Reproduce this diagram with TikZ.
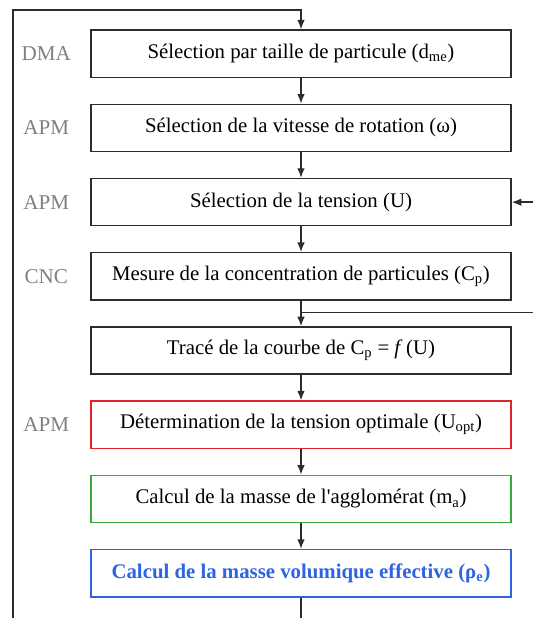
\documentclass[tikz,border=0pt]{standalone}
\usepackage{fontspec}
\setmainfont{Liberation Serif}
\usepackage{tikz}
\usetikzlibrary{positioning,arrows.meta,calc}
\usepackage{xcolor}
\definecolor{tagGray}{RGB}{128,128,128}
\definecolor{lineGray}{RGB}{45,45,45}
\definecolor{optRed}{RGB}{225,35,45}
\definecolor{massGreen}{RGB}{55,170,60}
\definecolor{rhoBlue}{RGB}{45,100,225}

\begin{document}
\begin{tikzpicture}[
  node distance=0.64cm,
  stepbox/.style={draw=lineGray, line width=1pt, minimum width=10.5cm, minimum height=1.18cm, inner sep=0pt, font=\fontsize{14.8}{17}\selectfont},
  tag/.style={text=tagGray, font=\fontsize{15}{17}\selectfont},
  wire/.style={draw=lineGray, line width=1pt},
  flow/.style={wire, -{Latex[length=2.4mm,width=1.9mm]}}
]
  \useasboundingbox (0,0) rectangle (13.325,-15.45);
  % the steps
  \node[stepbox] (b1) at (7.525,-1.344) {Sélection par taille de particule (d\textsubscript{me})};
  \node[stepbox, below=of b1] (b2) {Sélection de la vitesse de rotation (ω)};
  \node[stepbox, below=of b2] (b3) {Sélection de la tension (U)};
  \node[stepbox, below=of b3] (b4) {Mesure de la concentration de particules (C\textsubscript{p})};
  \node[stepbox, below=of b4] (b5) {Tracé de la courbe de C\textsubscript{p} = \textit{f}\,(U)};
  \node[stepbox, draw=optRed, below=of b5] (b6) {Détermination de la tension optimale (U\textsubscript{opt})};
  \node[stepbox, draw=massGreen, below=of b6] (b7) {Calcul de la masse de l\textquotesingle agglomérat (m\textsubscript{a})};
  \node[stepbox, draw=rhoBlue, text=rhoBlue, font=\fontsize{14.8}{17}\selectfont\bfseries, below=of b7] (b8) {Calcul de la masse volumique effective (ρ\textsubscript{e})};
  % instruments
  \node[tag] (t1) at ([xshift=-1.1cm]b1.west) {DMA};
  \node[tag] (t2) at ([xshift=-1.1cm]b2.west) {APM};
  \node[tag] (t3) at ([xshift=-1.1cm]b3.west) {APM};
  \node[tag] (t4) at ([xshift=-1.1cm]b4.west) {CNC};
  \node[tag] (t6) at ([xshift=-1.1cm]b6.west) {APM};
  \foreach \a/\b in {b1/b2,b2/b3,b3/b4,b4/b5,b5/b6,b6/b7,b7/b8}
    \draw[flow] (\a) -- (\b);
  % loops leaving the picture
  \coordinate (tl) at (0.325,-0.25);
  \coordinate (bl) at (0.325,-15.45);
  \coordinate (redge) at (13.325,0);
  \coordinate (split) at ($(b4.south)+(0,-0.3)$);
  \draw[flow] (bl) -- (tl) -| (b1.north);
  \draw[wire] (b8.south) -- (b8.south |- bl);
  \draw[flow] (b3.east -| redge) -- (b3.east);
  \draw[wire] (split) -- (split -| redge);
\end{tikzpicture}
\end{document}
